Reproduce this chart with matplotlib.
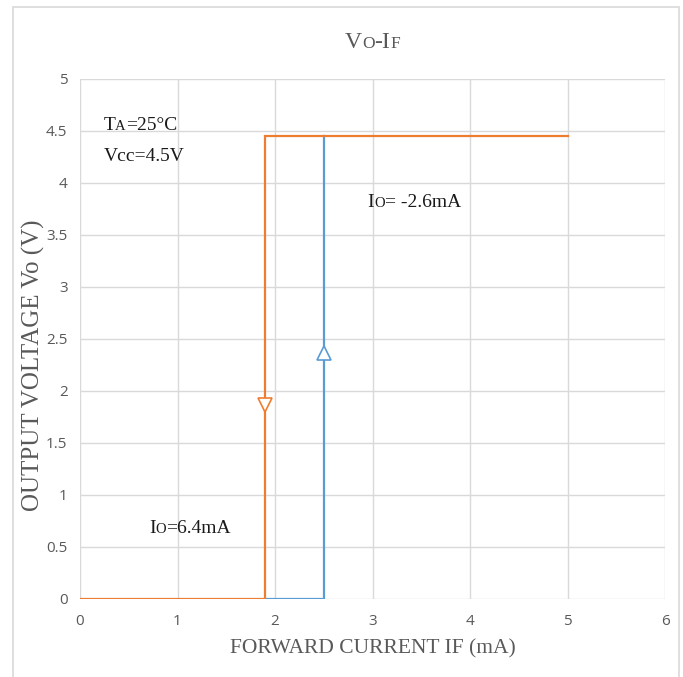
import numpy as np
import matplotlib.pyplot as plt
from matplotlib.patches import Rectangle

# data
orange_x = [0, 1.9, 1.9, 5]
orange_y = [0, 0, 4.45, 4.45]
blue_x = [1.9, 2.5, 2.5]
blue_y = [0, 0, 4.45]
orange_arrow = (1.9, 1.87)
blue_arrow = (2.5, 2.37)
x_ticks = [0, 1, 2, 3, 4, 5, 6]
y_ticks = [0, 0.5, 1, 1.5, 2, 2.5, 3, 3.5, 4, 4.5, 5]
y_tick_labels = ['0', '0.5', '1', '1.5', '2', '2.5', '3', '3.5', '4', '4.5', '5']

ORANGE = '#ED7D31'
BLUE = '#5B9BD5'
GRID = '#d9d9d9'
SERIF = 'Liberation Serif'
TXT = '#1a1a1a'


def smallcaps(ax, x, y, parts, color=TXT, transform=None):
    # draw pieces of text one after the other on one baseline (fake small caps)
    if transform is None:
        transform = ax.transData
    s0 = parts[0][1]
    t = ax.text(x, y, parts[0][0], fontsize=s0, family=SERIF, color=color,
                va='baseline', ha='left', transform=transform)
    prev, ps = t, s0
    for txt, s in parts[1:]:
        prev = ax.annotate(txt, xy=(1, 0), xycoords=prev,
                           xytext=(0, 0.216 * (ps - s)), textcoords='offset points',
                           fontsize=s, family=SERIF, color=color,
                           va='bottom', ha='left')
        ps = s
    return t


fig = plt.figure(figsize=(6.83, 6.77), dpi=100)
ax = fig.add_axes([80 / 683, 1 - 599 / 677, 585 / 683, 520 / 677])

ax.plot(blue_x, blue_y, color=BLUE, lw=1.6, solid_joinstyle='miter', zorder=3)
ax.plot(orange_x, orange_y, color=ORANGE, lw=1.6, solid_joinstyle='miter', zorder=4)
ax.plot(*orange_arrow, marker='v', ms=10, mfc='white', mec=ORANGE, mew=1.2, zorder=5)
ax.plot(*blue_arrow, marker='^', ms=10, mfc='white', mec=BLUE, mew=1.2, zorder=5)

ax.set_xlim(0, 6)
ax.set_ylim(0, 5)
ax.set_xticks(x_ticks)
ax.set_yticks(y_ticks)
ax.set_yticklabels(y_tick_labels)
ax.grid(True, color=GRID, lw=1)
ax.set_axisbelow(True)
for sp in ax.spines.values():
    sp.set_visible(False)
ax.tick_params(length=0, labelsize=11, labelcolor='#595959')
ax.tick_params(axis='x', pad=11)
ax.tick_params(axis='y', pad=9)
for lab in ax.get_xticklabels() + ax.get_yticklabels():
    lab.set_family('Open Sans')

# title  Vo-IF, centred over the plot area
parts = [('V', 17), ('O', 12.5), ('-I', 17), ('F', 12.5)]
fig.canvas.draw()
r = fig.canvas.get_renderer()
total = 0
for txt, s in parts:
    tt = fig.text(0, 0, txt, fontsize=s, family=SERIF)
    total += tt.get_window_extent(r).width
    tt.remove()
x0 = ((80 + 665) / 2 - total / 2) / 683
smallcaps(ax, x0, 1 - 48 / 677, parts, color='#595959', transform=fig.transFigure)

# annotations
smallcaps(ax, 0.24, 4.51, [('T', 14), ('A', 10.5), ('=25°C', 14)])
ax.text(0.24, 4.21, 'Vcc=4.5V', fontsize=14, family=SERIF, color=TXT, va='baseline')
smallcaps(ax, 2.95, 3.77, [('I', 14), ('O', 10.5), ('= -2.6mA', 14)])
smallcaps(ax, 0.71, 0.635, [('I', 14), ('O', 10.5), ('=6.4mA', 14)])

# axis labels
ax.set_xlabel('FORWARD CURRENT IF (mA)', fontsize=15.5, family=SERIF, color='#595959')
ax.xaxis.set_label_coords(0.5, -0.078)
ax.set_ylabel('OUTPUT VOLTAGE Vo (V)', fontsize=18, family=SERIF, color='#595959',
              va='center')
ax.yaxis.set_label_coords(-0.08, 0.45)

# outer frame
fig.patches.append(Rectangle((13 / 683, -0.01), 666 / 683, 1 - 7 / 677 + 0.01,
                             transform=fig.transFigure, fill=False,
                             edgecolor=GRID, lw=1.2))

fig.savefig('out.png', dpi=100)
